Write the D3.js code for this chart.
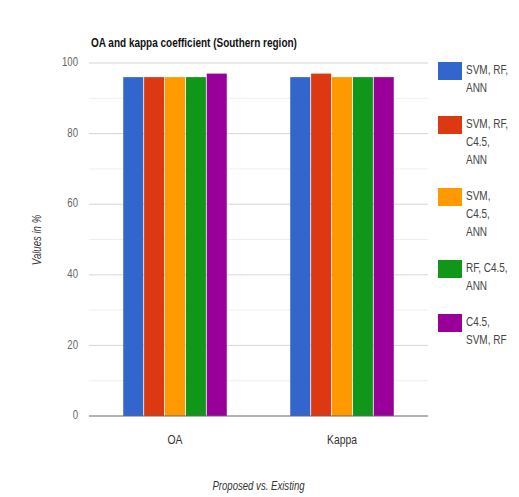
<!DOCTYPE html>
<html>
<head>
<meta charset="utf-8">
<script src="https://cdn.jsdelivr.net/npm/d3@7"></script>
<style>
  html, body { margin: 0; padding: 0; background: #fff; }
  svg { display: block; font-family: "Liberation Sans", Arial, sans-serif; }
</style>
</head>
<body>
<svg id="chart" width="519" height="497"></svg>
<script>
// Categories on the x axis and the five model combinations compared
const categories = ["OA", "Kappa"];
const seriesNames = [
  ["SVM, RF,", "ANN"],
  ["SVM, RF,", "C4.5,", "ANN"],
  ["SVM,", "C4.5,", "ANN"],
  ["RF, C4.5,", "ANN"],
  ["C4.5,", "SVM, RF"]
];
const seriesColors = ["#3366cc", "#dc3912", "#ff9900", "#109618", "#990099"];
// Values in % per series: [OA, Kappa]
const svmRfAnn = [96, 96];
const svmRfC45Ann = [96, 97];
const svmC45Ann = [96, 96];
const rfC45Ann = [96, 96];
const c45SvmRf = [97, 96];
const seriesValues = [svmRfAnn, svmRfC45Ann, svmC45Ann, rfC45Ann, c45SvmRf];
const yTicks = [0, 20, 40, 60, 80, 100];
const yMinorTicks = [10, 30, 50, 70, 90];

const svg = d3.select("#chart");
const plot = { left: 89, right: 428, top: 63, bottom: 416 };
const sx = 0.8; // narrow text rendering

const x0 = d3.scaleBand().domain(categories).range([91.5, 425.5]).paddingInner(0).paddingOuter(0);
const x1 = d3.scaleBand().domain(d3.range(seriesNames.length))
  .range([0, x0.bandwidth() * 0.62]).paddingInner(0.04);
const y = d3.scaleLinear().domain([0, 100]).range([plot.bottom, plot.top]);

function narrowText(g, x, yPos, str, opts) {
  const t = g.append("g").attr("transform", `translate(${x},${yPos}) scale(${sx},1)`)
    .append("text").text(str)
    .attr("x", 0).attr("y", 0)
    .attr("text-anchor", opts.anchor || "start")
    .attr("dominant-baseline", "middle")
    .attr("font-size", opts.size || 12)
    .attr("fill", opts.fill || "#222");
  if (opts.weight) t.attr("font-weight", opts.weight);
  if (opts.style) t.attr("font-style", opts.style);
  return t;
}

// Gridlines
svg.append("g").selectAll("line.minor").data(yMinorTicks).join("line")
  .attr("x1", plot.left).attr("x2", plot.right)
  .attr("y1", d => y(d)).attr("y2", d => y(d))
  .attr("stroke", "#eeeeee").attr("stroke-width", 1);
svg.append("g").selectAll("line.major").data(yTicks.filter(d => d > 0)).join("line")
  .attr("x1", plot.left).attr("x2", plot.right)
  .attr("y1", d => y(d)).attr("y2", d => y(d))
  .attr("stroke", "#d6d6d6").attr("stroke-width", 1);

// Y axis labels
const yAxisG = svg.append("g");
yTicks.forEach(t => narrowText(yAxisG, 78, y(t), String(t), { anchor: "end", size: 12, fill: "#666" }));

// Bars
const barsG = svg.append("g");
categories.forEach((cat, ci) => {
  const groupStart = x0(cat) + (x0.bandwidth() - x1.range()[1]) / 2;
  barsG.selectAll(null).data(seriesValues.map((vals, si) => ({ si, v: vals[ci] }))).join("rect")
    .attr("x", d => groupStart + x1(d.si))
    .attr("y", d => y(d.v))
    .attr("width", x1.bandwidth())
    .attr("height", d => y(0) - y(d.v))
    .attr("fill", d => seriesColors[d.si]);
});

// Baseline
svg.append("line").attr("x1", plot.left).attr("x2", plot.right)
  .attr("y1", y(0)).attr("y2", y(0)).attr("stroke", "#666").attr("stroke-width", 1.2);

// Category labels
const xAxisG = svg.append("g");
categories.forEach(c => narrowText(xAxisG, x0(c) + x0.bandwidth() / 2, 441, c, { anchor: "middle", size: 13, fill: "#333" }));

// Title and axis titles
narrowText(svg, 91, 44, "OA and kappa coefficient (Southern region)", { size: 12.5, weight: "bold", fill: "#111" });
narrowText(svg, (plot.left + plot.right) / 2, 487, "Proposed vs. Existing", { anchor: "middle", size: 12, style: "italic", fill: "#333" });
svg.append("g").attr("transform", `translate(38,240) rotate(-90) scale(${sx},1)`)
  .append("text").text("Values in %")
  .attr("text-anchor", "middle").attr("dominant-baseline", "middle")
  .attr("font-size", 12).attr("font-style", "italic").attr("fill", "#333");

// Legend
const legend = svg.append("g");
const lineH = 18, entryGap = 18;
let ly = 71;
seriesNames.forEach((lines, i) => {
  legend.append("rect").attr("x", 438).attr("y", ly - 9).attr("width", 24).attr("height", 18)
    .attr("fill", seriesColors[i]);
  lines.forEach((ln, k) => narrowText(legend, 466, ly + k * lineH, ln, { size: 12.5, fill: "#444" }));
  ly += lines.length * lineH + entryGap;
});
</script>
</body>
</html>
